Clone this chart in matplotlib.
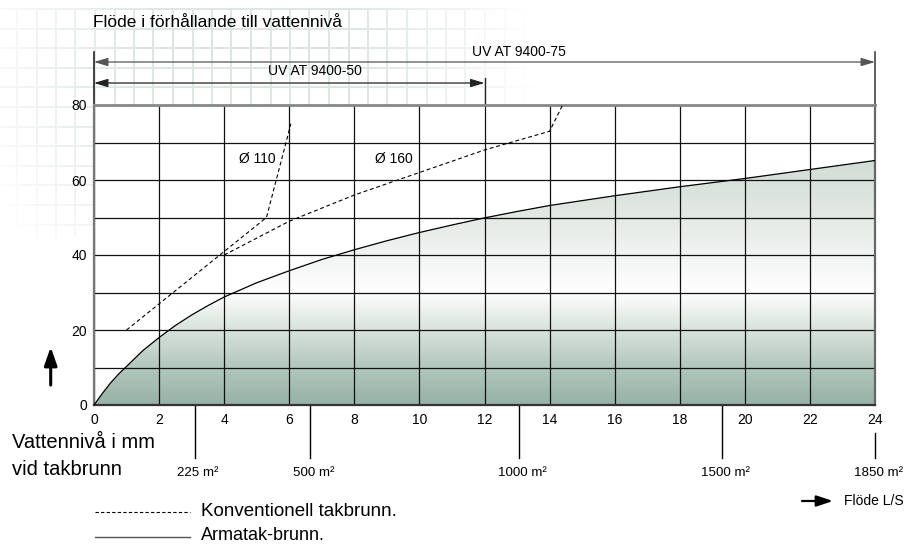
import numpy as np
import matplotlib
matplotlib.use("Agg")
import matplotlib.pyplot as plt
from matplotlib.colors import LinearSegmentedColormap
from matplotlib.patches import Polygon, FancyArrowPatch
from matplotlib.lines import Line2D

plt.rcParams['font.family'] = ['Liberation Sans', 'DejaVu Sans']

# --- data ---
# Armatak-brunn (solid curve, filled)
armatak_x = [0, 0.25, 0.5, 0.75, 1, 1.5, 2, 2.5, 3, 3.5, 4, 5, 6, 7, 8, 9, 10,
             11, 12, 13, 14, 15, 16, 17, 18, 19, 20, 21, 22, 23, 24]
armatak_y = [0, 3, 5.8, 8.2, 10.3, 14.5, 18, 21.2, 24, 26.5, 28.8, 32.6, 35.8,
             38.8, 41.4, 43.8, 46, 48, 49.9, 51.6, 53.2, 54.5, 55.8, 57, 58.2,
             59.3, 60.4, 61.6, 62.8, 64, 65.2]
# Konventionell takbrunn, two pipe sizes (dashed)
d110_x = [1, 5.3, 6.05]
d110_y = [20, 50, 75]
d160_x = [4, 6, 8, 10, 12, 14, 14.4]
d160_y = [40, 49, 56, 62, 68, 73, 80]
# roof area markers below the x axis
area_x = [3.1, 6.65, 13.05, 19.3, 24]
area_labels = ['225 m²', '500 m²', '1000 m²', '1500 m²', '1850 m²']
x_ticks = list(range(0, 25, 2))
y_ticks = [0, 20, 40, 60, 80]

W, H = 906, 546
fig = plt.figure(figsize=(W / 100, H / 100), dpi=100)

def fx(px):
    return px / W

def fy(py):
    return 1 - py / H

# faint decorative grid in the upper left background
bg = fig.add_axes([0, 0, 1, 1], zorder=-5)
bg.axis('off')
img = np.ones((H, W, 4))
img[..., :3] = (0.84, 0.89, 0.85)
mask = np.zeros((H, W))
for vx in np.arange(94 - 19.5 * 5, 560, 19.5):
    mask[8:238, int(round(vx)):int(round(vx)) + 2] = 1
for hy in np.arange(8, 238, 19.6):
    mask[int(round(hy)):int(round(hy)) + 2, 0:560] = 1
yy, xx = np.mgrid[0:H, 0:W]
r = np.sqrt(((xx - 250) / 330.0) ** 2 + ((yy - 80) / 300.0) ** 2)
fade = np.clip(1.6 * (1 - r) - 0.2, 0, 0.8)
img[..., 3] = mask * fade
bg.imshow(img, extent=(0, W, H, 0), aspect='auto', interpolation='nearest')
bg.set_xlim(0, W)
bg.set_ylim(H, 0)

ax = fig.add_axes([fx(94), fy(405), fx(875) - fx(94), fy(105) - fy(405)])
ax.set_facecolor('white')

# gradient fill under the Armatak curve
cmap = LinearSegmentedColormap.from_list('fill', [
    (0.0, '#97b2a6'), (10 / 80, '#b3c7bd'), (22 / 80, '#e0e8e3'),
    (30 / 80, '#ffffff'), (40 / 80, '#f1f4f2'), (50 / 80, '#e3e9e5'),
    (65 / 80, '#d3ddd7'), (1.0, '#ccd8d1')])
grad = np.linspace(0, 1, 400).reshape(-1, 1)
im = ax.imshow(grad, extent=[0, 24, 0, 80], origin='lower', aspect='auto',
               cmap=cmap, zorder=1)
verts = list(zip(armatak_x, armatak_y)) + [(24, 0), (0, 0)]
patch = Polygon(verts, closed=True, facecolor='none', edgecolor='none')
ax.add_patch(patch)
im.set_clip_path(patch)

ax.plot(armatak_x, armatak_y, color='black', lw=0.9, zorder=4)
ax.plot(d110_x, d110_y, color='black', lw=0.8, dashes=(3.5, 2.5), zorder=4)
ax.plot(d160_x, d160_y, color='black', lw=0.8, dashes=(3.5, 2.5), zorder=4)
ax.text(4.45, 65.5, 'Ø 110', fontsize=10, va='center', zorder=5)
ax.text(8.65, 65.5, 'Ø 160', fontsize=10, va='center', zorder=5)

ax.set_xlim(0, 24)
ax.set_ylim(0, 80)
ax.set_xticks(x_ticks)
ax.set_yticks(y_ticks)
ax.set_yticks([10, 30, 50, 70], minor=True)
ax.grid(True, which='both', color='#111111', lw=0.9)
ax.set_axisbelow(False)
ax.tick_params(which='both', length=0, labelsize=10)
ax.tick_params(axis='x', pad=6)
ax.tick_params(axis='y', pad=5)
for side, c, w in [('left', '#777777', 1.6), ('top', '#888888', 2.0),
                   ('right', '#666666', 1.6), ('bottom', '#333333', 1.6)]:
    ax.spines[side].set_color(c)
    ax.spines[side].set_linewidth(w)
    ax.spines[side].set_zorder(3)

# range arrows above the chart
bt = ax.get_xaxis_transform()
ax.plot([0, 0], [1.0, 1.177], color='#222222', lw=1.2, transform=bt, clip_on=False)
ax.plot([24, 24], [1.0, 1.177], color='#444444', lw=1.2, transform=bt, clip_on=False)
ax.plot([12, 12], [1.0, 1.09], color='#222222', lw=1.0, transform=bt, clip_on=False)
for x1, yv, col in [(24, 1.1433, '#555555'), (12, 1.0733, '#222222')]:
    ax.annotate('', xy=(x1, yv), xytext=(0, yv), xycoords=bt, textcoords=bt,
                arrowprops=dict(arrowstyle='<|-|>,head_length=0.6,head_width=0.18',
                                mutation_scale=14, color=col, lw=0.9,
                                shrinkA=0, shrinkB=0))
ax.text(13.07, 1.163, 'UV AT 9400-75', transform=bt, ha='center', va='baseline', fontsize=10)
ax.text(6.8, 1.099, 'UV AT 9400-50', transform=bt, ha='center', va='baseline', fontsize=10)

# roof area markers
for i, (xa, lab) in enumerate(zip(area_x, area_labels)):
    y0 = -0.093 if i == len(area_x) - 1 else 0.0
    ax.plot([xa, xa], [y0, -0.177], color='black', lw=1.0, transform=bt, clip_on=False)
    ax.text(xa + 0.1, -0.237, lab, transform=bt, ha='center', va='baseline', fontsize=9.6)

fig.text(fx(93), fy(27), 'Flöde i förhållande till vattennivå', fontsize=12.5, va='baseline')
fig.text(fx(12), fy(448), 'Vattennivå i mm', fontsize=14.5, va='baseline')
fig.text(fx(12), fy(475), 'vid takbrunn', fontsize=14.5, va='baseline')

# up arrow at the y axis
fig.patches.append(FancyArrowPatch(
    (fx(50.7), fy(385)), (fx(50.7), fy(347)), transform=fig.transFigure,
    arrowstyle='-|>,head_length=1.0,head_width=0.35', mutation_scale=11,
    color='black', lw=2.2, shrinkA=0, shrinkB=0))

# flow direction arrow
fig.patches.append(FancyArrowPatch(
    (fx(802), fy(501)), (fx(833), fy(501)), transform=fig.transFigure,
    arrowstyle='-|>,head_length=0.9,head_width=0.3', mutation_scale=11,
    color='black', lw=1.6, shrinkA=0, shrinkB=0))
fig.text(fx(844), fy(501), 'Flöde L/S', fontsize=10, va='center')

# legend
fig.add_artist(Line2D([fx(95), fx(190)], [fy(512), fy(512)], transform=fig.transFigure,
                      color='black', lw=0.8, dashes=(3, 2)))
fig.text(fx(201), fy(512), 'Konventionell takbrunn.', fontsize=13.5, va='center')
fig.add_artist(Line2D([fx(95), fx(190)], [fy(537), fy(537)], transform=fig.transFigure,
                      color='#555555', lw=1.0))
fig.text(fx(201), fy(536), 'Armatak-brunn.', fontsize=13, va='center')

fig.savefig('out.png', dpi=100)
